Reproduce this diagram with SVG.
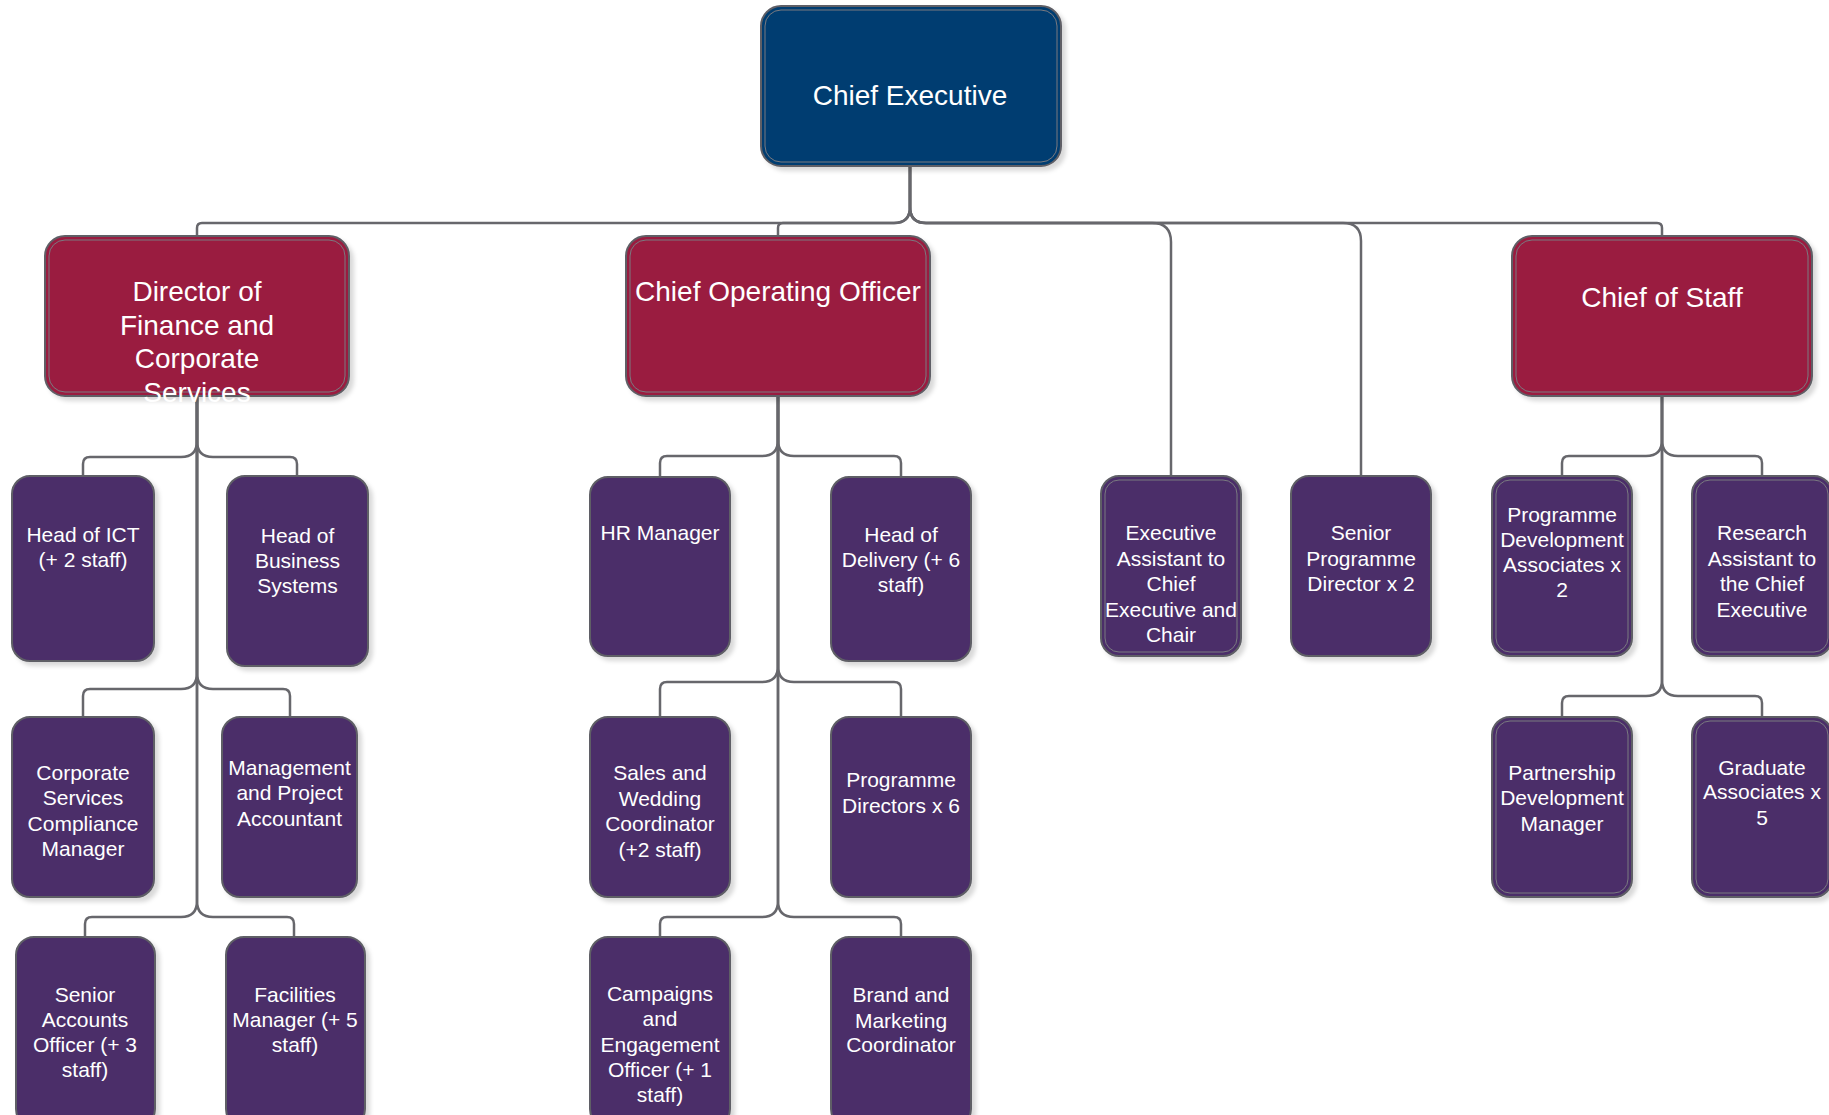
<svg xmlns="http://www.w3.org/2000/svg" width="1829" height="1115" viewBox="0 0 1829 1115">
<defs>
<filter id="sh" x="-10%" y="-10%" width="130%" height="130%">
<feDropShadow dx="4" dy="4" stdDeviation="2" flood-color="#000" flood-opacity="0.15"/>
</filter>
<style>
.box{stroke:#5f5f66;stroke-width:2;filter:url(#sh)}
.inner{fill:none;stroke:#7a7a80;stroke-width:1}
.ce{fill:#023e71}
.red{fill:#9a1f40}
.pur{fill:#4b2f69}
.t{font-family:"Liberation Sans",Arial,sans-serif;fill:#fff;text-anchor:middle}
.big{font-size:28px}
.sm{font-size:21px}
.con{fill:none;stroke:#67676c;stroke-width:2.5}
</style>
</defs>
<rect width="1829" height="1115" fill="#fff"/>

<g id="connectors">
<path class="con" d="M910,166 V207 Q910,223 894,223 H202 Q197,223 197,228 V236"/>
<path class="con" d="M910,166 V207 Q910,223 894,223 H783 Q778,223 778,228 V236"/>
<path class="con" d="M910,166 V207 Q910,223 926,223 H1152 Q1171,223 1171,242 V476"/>
<path class="con" d="M910,166 V207 Q910,223 926,223 H1343 Q1361,223 1361,241 V476"/>
<path class="con" d="M910,166 V207 Q910,223 926,223 H1657 Q1662,223 1662,228 V236"/>

<path class="con" d="M197,396 V441 Q197,457 181,457 H90 Q83,457 83,464 V476"/>
<path class="con" d="M197,396 V441 Q197,457 213,457 H290 Q297,457 297,464 V476"/>
<path class="con" d="M197,396 V673 Q197,689 181,689 H90 Q83,689 83,696 V717"/>
<path class="con" d="M197,396 V673 Q197,689 213,689 H283 Q290,689 290,696 V717"/>
<path class="con" d="M197,396 V901 Q197,917 181,917 H92 Q85,917 85,924 V937"/>
<path class="con" d="M197,396 V901 Q197,917 213,917 H287 Q294,917 294,924 V937"/>

<path class="con" d="M778,396 V440 Q778,456 762,456 H667 Q660,456 660,463 V477"/>
<path class="con" d="M778,396 V440 Q778,456 794,456 H894 Q901,456 901,463 V477"/>
<path class="con" d="M778,396 V666 Q778,682 762,682 H667 Q660,682 660,689 V717"/>
<path class="con" d="M778,396 V666 Q778,682 794,682 H894 Q901,682 901,689 V717"/>
<path class="con" d="M778,396 V901 Q778,917 762,917 H667 Q660,917 660,924 V937"/>
<path class="con" d="M778,396 V901 Q778,917 794,917 H894 Q901,917 901,924 V937"/>

<path class="con" d="M1662,396 V440 Q1662,456 1646,456 H1569 Q1562,456 1562,463 V476"/>
<path class="con" d="M1662,396 V440 Q1662,456 1678,456 H1755 Q1762,456 1762,463 V476"/>
<path class="con" d="M1662,396 V680 Q1662,696 1646,696 H1569 Q1562,696 1562,703 V717"/>
<path class="con" d="M1662,396 V680 Q1662,696 1678,696 H1755 Q1762,696 1762,703 V717"/>
</g>

<g id="chief-executive">
<rect class="box ce" x="761" y="6" width="300" height="160" rx="20"/>
<rect class="inner" x="765" y="10" width="292" height="152" rx="16"/>
<text class="t big" x="910" y="105">Chief Executive</text>
</g>

<g id="director-finance">
<rect class="box red" x="45" y="236" width="304" height="160" rx="20"/>
<rect class="inner" x="49" y="240" width="296" height="152" rx="16"/>
<text class="t big" x="197"><tspan x="197" y="301">Director of</tspan><tspan x="197" y="335">Finance and</tspan><tspan x="197" y="368">Corporate</tspan><tspan x="197" y="402">Services</tspan></text>
</g>

<g id="coo">
<rect class="box red" x="626" y="236" width="304" height="160" rx="20"/>
<rect class="inner" x="630" y="240" width="296" height="152" rx="16"/>
<text class="t big" x="778" y="301">Chief Operating Officer</text>
</g>

<g id="chief-of-staff">
<rect class="box red" x="1512" y="236" width="300" height="160" rx="20"/>
<rect class="inner" x="1516" y="240" width="292" height="152" rx="16"/>
<text class="t big" x="1662" y="307">Chief of Staff</text>
</g>

<g id="head-ict">
<rect class="box pur" x="12" y="476" width="142" height="185" rx="18"/>
<text class="t sm"><tspan x="83" y="542">Head of ICT</tspan><tspan x="83" y="567">(+ 2 staff)</tspan></text>
</g>

<g id="head-business-systems">
<rect class="box pur" x="227" y="476" width="141" height="190" rx="18"/>
<text class="t sm"><tspan x="297.5" y="543">Head of</tspan><tspan x="297.5" y="568">Business</tspan><tspan x="297.5" y="593">Systems</tspan></text>
</g>

<g id="corporate-services">
<rect class="box pur" x="12" y="717" width="142" height="180" rx="18"/>
<text class="t sm"><tspan x="83" y="780">Corporate</tspan><tspan x="83" y="805">Services</tspan><tspan x="83" y="831">Compliance</tspan><tspan x="83" y="856">Manager</tspan></text>
</g>

<g id="management-accountant">
<rect class="box pur" x="222" y="717" width="135" height="180" rx="18"/>
<text class="t sm"><tspan x="289.5" y="775">Management</tspan><tspan x="289.5" y="800">and Project</tspan><tspan x="289.5" y="826">Accountant</tspan></text>
</g>

<g id="senior-accounts">
<rect class="box pur" x="16" y="937" width="139" height="190" rx="18"/>
<text class="t sm"><tspan x="85" y="1002">Senior</tspan><tspan x="85" y="1027">Accounts</tspan><tspan x="85" y="1052">Officer (+ 3</tspan><tspan x="85" y="1077">staff)</tspan></text>
</g>

<g id="facilities-manager">
<rect class="box pur" x="226" y="937" width="139" height="190" rx="18"/>
<text class="t sm"><tspan x="295" y="1002">Facilities</tspan><tspan x="295" y="1027">Manager (+ 5</tspan><tspan x="295" y="1052">staff)</tspan></text>
</g>

<g id="hr-manager">
<rect class="box pur" x="590" y="477" width="140" height="179" rx="18"/>
<text class="t sm" x="660" y="540">HR Manager</text>
</g>

<g id="head-delivery">
<rect class="box pur" x="831" y="477" width="140" height="184" rx="18"/>
<text class="t sm"><tspan x="901" y="542">Head of</tspan><tspan x="901" y="567">Delivery (+ 6</tspan><tspan x="901" y="592">staff)</tspan></text>
</g>

<g id="sales-wedding">
<rect class="box pur" x="590" y="717" width="140" height="180" rx="18"/>
<text class="t sm"><tspan x="660" y="780">Sales and</tspan><tspan x="660" y="806">Wedding</tspan><tspan x="660" y="831">Coordinator</tspan><tspan x="660" y="857">(+2 staff)</tspan></text>
</g>

<g id="programme-directors">
<rect class="box pur" x="831" y="717" width="140" height="180" rx="18"/>
<text class="t sm"><tspan x="901" y="787">Programme</tspan><tspan x="901" y="813">Directors x 6</tspan></text>
</g>

<g id="campaigns-officer">
<rect class="box pur" x="590" y="937" width="140" height="190" rx="18"/>
<text class="t sm"><tspan x="660" y="1001">Campaigns</tspan><tspan x="660" y="1026">and</tspan><tspan x="660" y="1052">Engagement</tspan><tspan x="660" y="1077">Officer (+ 1</tspan><tspan x="660" y="1102">staff)</tspan></text>
</g>

<g id="brand-marketing">
<rect class="box pur" x="831" y="937" width="140" height="190" rx="18"/>
<text class="t sm"><tspan x="901" y="1002">Brand and</tspan><tspan x="901" y="1028">Marketing</tspan><tspan x="901" y="1052">Coordinator</tspan></text>
</g>

<g id="executive-assistant">
<rect class="box pur" x="1101" y="476" width="140" height="180" rx="18"/>
<rect class="inner" x="1105" y="480" width="132" height="172" rx="14"/>
<text class="t sm"><tspan x="1171" y="540">Executive</tspan><tspan x="1171" y="566">Assistant to</tspan><tspan x="1171" y="591">Chief</tspan><tspan x="1171" y="617">Executive and</tspan><tspan x="1171" y="642">Chair</tspan></text>
</g>

<g id="senior-programme-director">
<rect class="box pur" x="1291" y="476" width="140" height="180" rx="18"/>
<text class="t sm"><tspan x="1361" y="540">Senior</tspan><tspan x="1361" y="566">Programme</tspan><tspan x="1361" y="591">Director x 2</tspan></text>
</g>

<g id="programme-development">
<rect class="box pur" x="1492" y="476" width="140" height="180" rx="18"/>
<rect class="inner" x="1496" y="480" width="132" height="172" rx="14"/>
<text class="t sm"><tspan x="1562" y="522">Programme</tspan><tspan x="1562" y="547">Development</tspan><tspan x="1562" y="572">Associates x</tspan><tspan x="1562" y="597">2</tspan></text>
</g>

<g id="research-assistant">
<rect class="box pur" x="1692" y="476" width="140" height="180" rx="18"/>
<rect class="inner" x="1696" y="480" width="132" height="172" rx="14"/>
<text class="t sm"><tspan x="1762" y="540">Research</tspan><tspan x="1762" y="566">Assistant to</tspan><tspan x="1762" y="591">the Chief</tspan><tspan x="1762" y="617">Executive</tspan></text>
</g>

<g id="partnership-manager">
<rect class="box pur" x="1492" y="717" width="140" height="180" rx="18"/>
<rect class="inner" x="1496" y="721" width="132" height="172" rx="14"/>
<text class="t sm"><tspan x="1562" y="780">Partnership</tspan><tspan x="1562" y="805">Development</tspan><tspan x="1562" y="831">Manager</tspan></text>
</g>

<g id="graduate-associates">
<rect class="box pur" x="1692" y="717" width="140" height="180" rx="18"/>
<rect class="inner" x="1696" y="721" width="132" height="172" rx="14"/>
<text class="t sm"><tspan x="1762" y="775">Graduate</tspan><tspan x="1762" y="799">Associates x</tspan><tspan x="1762" y="825">5</tspan></text>
</g>
</svg>
